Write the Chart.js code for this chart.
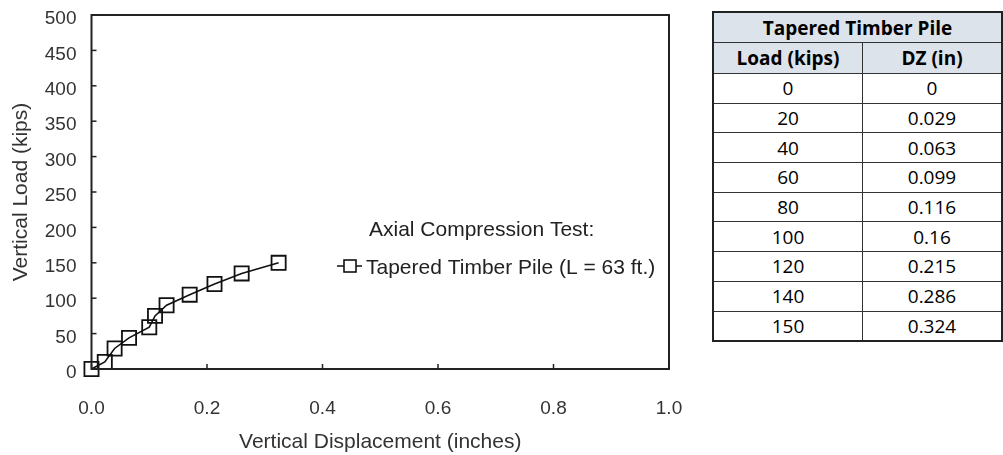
<!DOCTYPE html>
<html><head><meta charset="utf-8">
<script src="https://cdn.jsdelivr.net/npm/chart.js@4.4.1/dist/chart.umd.min.js"></script>
<style>
html,body{margin:0;padding:0;background:#fff;}
#wrap{position:absolute;left:0;top:0;width:712px;height:455px;}
table{position:absolute;left:712px;top:11px;border-collapse:collapse;font-family:"Open Sans",Lato,sans-serif;font-size:19px;color:#000;}
td,th{border:1px solid #333;height:28.7px;padding:0;text-align:center;line-height:22px;}
th{background:#dde3ea;font-weight:bold;}
table{border:2px solid #222;}
</style></head>
<body>
<div id="wrap"><canvas id="c" width="712" height="455"></canvas></div>
<table id="t"></table>
<script>
// chart data (read from the plotted points)
const displacement = [0, 0.023, 0.04, 0.065, 0.1, 0.11, 0.13, 0.17, 0.213, 0.26, 0.324];
const load = [0, 10, 29, 44, 59, 75, 90, 105, 120, 135, 150];
const seriesLabel = "Tapered Timber Pile (L = 63 ft.)";
const legendTitle = "Axial Compression Test:";
const xTitle = "Vertical Displacement (inches)";
const yTitle = "Vertical Load (kips)";
// table data
const tableTitle = "Tapered Timber Pile";
const tableHeaders = ["Load (kips)", "DZ (in)"];
const tableLoads = ["0", "20", "40", "60", "80", "100", "120", "140", "150"];
const tableDZ = ["0", "0.029", "0.063", "0.099", "0.116", "0.16", "0.215", "0.286", "0.324"];

// build table
const t = document.getElementById('t');
let html = '<tr><th colspan="2" style="width:286px;height:29px">' + tableTitle + '</th></tr>';
html += '<tr><th style="width:148px;height:30px">' + tableHeaders[0] + '</th><th style="width:138px">' + tableHeaders[1] + '</th></tr>';
for (let i = 0; i < tableLoads.length; i++) {
  html += '<tr><td>' + tableLoads[i] + '</td><td>' + tableDZ[i] + '</td></tr>';
}
t.innerHTML = html;

const FONT = '"Liberation Sans", Arial, sans-serif';
const boxPlugin = {
  id: 'box',
  afterDatasetsDraw(chart) {
    const {ctx, chartArea: a, scales} = chart;
    ctx.save();
    ctx.strokeStyle = '#222';
    ctx.lineWidth = 2;
    ctx.strokeRect(a.left, a.top, a.right - a.left, a.bottom - a.top);
    ctx.lineWidth = 1.5;
    // inward ticks
    scales.y.ticks.forEach(tk => {
      const y = scales.y.getPixelForValue(tk.value);
      ctx.beginPath(); ctx.moveTo(a.left, y); ctx.lineTo(a.left + 5, y); ctx.stroke();
    });
    scales.x.ticks.forEach(tk => {
      const x = scales.x.getPixelForValue(tk.value);
      ctx.beginPath(); ctx.moveTo(x, a.bottom); ctx.lineTo(x, a.bottom - 5); ctx.stroke();
    });
    // legend
    ctx.fillStyle = '#222';
    ctx.font = '21px ' + FONT;
    ctx.textBaseline = 'middle';
    ctx.fillText(legendTitle, 369, 230);
    ctx.fillText(chart.data.datasets[0].label, 366, 268);
    ctx.strokeStyle = '#111';
    ctx.lineWidth = 1.5;
    ctx.beginPath(); ctx.moveTo(337, 266); ctx.lineTo(362, 266); ctx.stroke();
    ctx.fillStyle = '#fff';
    ctx.lineWidth = 1.6;
    ctx.fillRect(344, 260, 12, 12);
    ctx.strokeRect(344, 260, 12, 12);
    ctx.restore();
  }
};

new Chart(document.getElementById('c'), {
  type: 'scatter',
  data: {
    datasets: [{
      label: seriesLabel,
      data: displacement.map((d, i) => ({x: d, y: load[i]})),
      showLine: true,
      borderColor: '#111',
      borderWidth: 1.6,
      pointStyle: 'rect',
      pointRadius: 10,
      pointBorderWidth: 1.8,
      pointBorderColor: '#111',
      pointBackgroundColor: 'rgba(255,255,255,0)',
      clip: false
    }]
  },
  options: {
    responsive: false,
    animation: false,
    layout: {padding: {top: 15, right: 43, left: 0, bottom: 0}},
    plugins: {legend: {display: false}, tooltip: {enabled: false}},
    scales: {
      x: {
        type: 'linear', min: 0, max: 1,
        grid: {display: false, drawTicks: false},
        border: {display: false},
        ticks: {stepSize: 0.2, padding: 28, color: '#333', font: {family: FONT, size: 19},
          callback: v => v.toFixed(1)},
        title: {display: true, text: xTitle, color: '#333', font: {family: FONT, size: 21}, padding: {top: 0, bottom: 0}},
        afterFit(s) { s.height = 86; s.paddingLeft = 0; s.paddingRight = 0; }
      },
      y: {
        type: 'linear', min: 0, max: 500,
        grid: {display: false, drawTicks: false},
        border: {display: false},
        ticks: {stepSize: 50, padding: 15, labelOffset: 4, color: '#333', font: {family: FONT, size: 19}},
        title: {display: true, text: yTitle, color: '#333', font: {family: FONT, size: 21}, padding: {top: 9, bottom: 0}},
        afterFit(s) { s.width = 91.5; s.paddingTop = 0; s.paddingBottom = 0; }
      }
    }
  },
  plugins: [boxPlugin]
});
</script>
</body></html>
